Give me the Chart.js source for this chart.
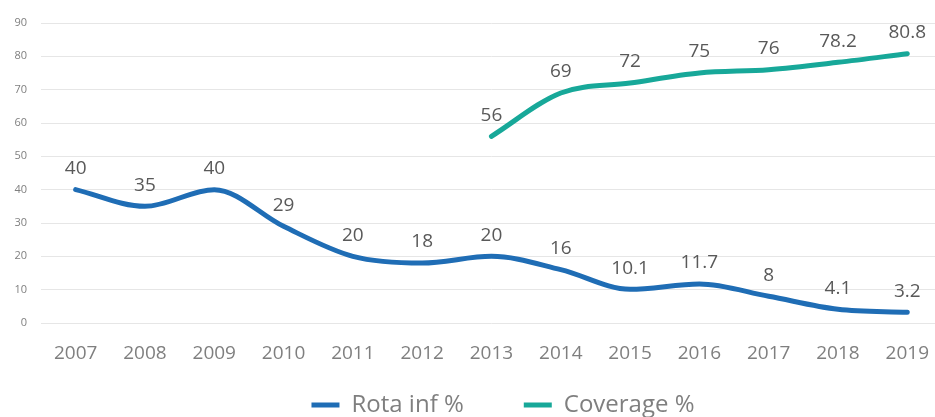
<!DOCTYPE html>
<html>
<head>
<meta charset="utf-8">
<script src="https://cdn.jsdelivr.net/npm/chart.js@4/dist/chart.umd.min.js"></script>
<style>
html,body{margin:0;padding:0;background:#fff;overflow:hidden;width:935px;height:417px;}
#wrap{position:absolute;left:0;top:0;width:948px;height:465px;}
</style>
</head>
<body>
<div id="wrap"><canvas id="c" width="948" height="465"></canvas></div>
<script>
const years = ['2007','2008','2009','2010','2011','2012','2013','2014','2015','2016','2017','2018','2019'];
const rotaInf = [40, 35, 40, 29, 20, 18, 20, 16, 10.1, 11.7, 8, 4.1, 3.2];
const coverage = [null, null, null, null, null, null, 56, 69, 72, 75, 76, 78.2, 80.8];
const yTicks = [0, 10, 20, 30, 40, 50, 60, 70, 80, 90];

const FONT = "'Open Sans', sans-serif";

const labelPlugin = {
  id: 'pointLabels',
  afterLayout(chart) {
    // place the legend closer to the axis labels, as in the reference
    if (chart.legend) {
      chart.legend.top -= 38; chart.legend.bottom -= 38;
      chart.legend.left += 29; chart.legend.right += 29;
    }
  },
  afterDatasetsDraw(chart) {
    const ctx = chart.ctx;
    ctx.save();
    ctx.font = "19px " + FONT;
    ctx.fillStyle = '#595959';
    ctx.textAlign = 'center';
    ctx.textBaseline = 'middle';
    chart.data.datasets.forEach((ds, i) => {
      const meta = chart.getDatasetMeta(i);
      meta.data.forEach((pt, j) => {
        const v = ds.data[j];
        if (v === null || v === undefined) return;
        ctx.fillText(String(v), pt.x, pt.y - 21);
      });
    });
    ctx.restore();
  }
};

new Chart(document.getElementById('c'), {
  type: 'line',
  data: {
    labels: years,
    datasets: [
      {
        label: 'Rota inf %',
        data: rotaInf,
        borderColor: '#1f6db5',
        backgroundColor: '#1f6db5',
        borderWidth: 5,
        borderCapStyle: 'round',
        cubicInterpolationMode: 'monotone',
        pointRadius: 0,
        pointStyle: 'line'
      },
      {
        label: 'Coverage %',
        data: coverage,
        borderColor: '#17a899',
        backgroundColor: '#17a899',
        borderWidth: 5,
        borderCapStyle: 'round',
        cubicInterpolationMode: 'monotone',
        pointRadius: 0,
        pointStyle: 'line',
        spanGaps: false
      }
    ]
  },
  options: {
    responsive: false,
    animation: false,
    layout: { padding: { top: 23, left: 0, right: 0, bottom: 0 } },
    plugins: {
      tooltip: { enabled: false },
      legend: {
        position: 'bottom',
        labels: {
          usePointStyle: true,
          pointStyleWidth: 28,
          boxHeight: 10,
          padding: 60,
          color: '#7f7f7f',
          font: { family: FONT, size: 24 }
        }
      }
    },
    scales: {
      x: {
        offset: true,
        grid: { display: false, drawTicks: false },
        border: { display: false },
        ticks: { color: '#7f7f7f', font: { family: FONT, size: 19 }, padding: 19, maxRotation: 0 },
        afterFit(s) { s.height = 48; }
      },
      y: {
        min: 0, max: 90,
        afterBuildTicks(s) { s.ticks = yTicks.map(v => ({ value: v })); },
        grid: { color: '#e6e6e6', lineWidth: 1, drawTicks: false },
        border: { display: false },
        ticks: { color: '#7f7f7f', font: { family: FONT, size: 11 }, padding: 14 },
        afterFit(s) { s.width = 41; }
      }
    }
  },
  plugins: [labelPlugin]
});
</script>
</body>
</html>
